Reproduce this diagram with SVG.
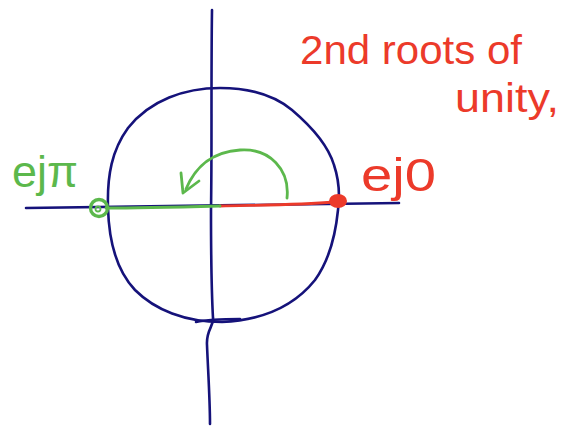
<svg xmlns="http://www.w3.org/2000/svg" width="565" height="427" viewBox="0 0 565 427">
<style>
.ink{fill:none;stroke-linecap:round;stroke-linejoin:round}
.navy{stroke:#15127a;stroke-width:2.6}
.green{stroke:#5cb84c;stroke-width:2.8}
.red{stroke:#ec3a2a;stroke-width:2.8}
.t{font-family:"Liberation Sans","DejaVu Sans",sans-serif}
</style>
<rect width="565" height="427" fill="#ffffff"/>
<g id="axes" class="ink navy">
<path d="M212,10 C211,80 212,150 211,210 C211,260 212,300 213,318 C214,326 206,330 207,345 C208,370 210,400 210,424"/>
<path d="M26,208 C120,207 250,205 399,203"/>
<path d="M196,322 C205,320 225,319 240,319"/>
</g>
<g id="unit-circle" class="ink navy">
<path d="M108,208 C107,175 112,150 128,128 C150,100 185,88 220,88 C250,88 275,96 292,110 C312,127 328,145 334,165 C339,180 340,195 338,210 C335,240 328,262 315,280 C295,305 265,320 222,322 C185,322 155,310 135,290 C118,272 109,245 108,208 Z"/>
</g>
<g id="connectors" class="ink">
<path class="red" d="M220,206 C260,205 300,205 334,202"/>
<path class="green" d="M106,208 C140,208 180,207 220,206"/>
<path class="green" d="M287,198 C290,170 270,148 240,150 C210,152 195,168 186,189"/>
<path class="green" d="M181,173 L183,193 L199,181"/>
</g>
<g id="node-e-j0">
<ellipse cx="338" cy="201" rx="9" ry="7" fill="#ec3a2a"/>
<text class="t" x="361" y="191" font-size="46" fill="#ec3a2a" textLength="75" lengthAdjust="spacingAndGlyphs">ej0</text>
</g>
<g id="node-e-jpi">
<circle cx="99" cy="208" r="8.5" fill="none" stroke="#5cb84c" stroke-width="3.4"/>
<circle cx="98" cy="209" r="2.5" fill="none" stroke="#5cb84c" stroke-width="1.8"/>
<text class="t" x="12" y="187" font-size="44" fill="#5cb84c" textLength="66" lengthAdjust="spacingAndGlyphs">ejπ</text>
</g>
<g id="label">
<text class="t" x="300" y="64" font-size="40" fill="#ec3a2a" textLength="222" lengthAdjust="spacingAndGlyphs">2nd roots of</text>
<text class="t" x="455" y="112" font-size="40" fill="#ec3a2a" textLength="104" lengthAdjust="spacingAndGlyphs">unity,</text>
</g>
</svg>
